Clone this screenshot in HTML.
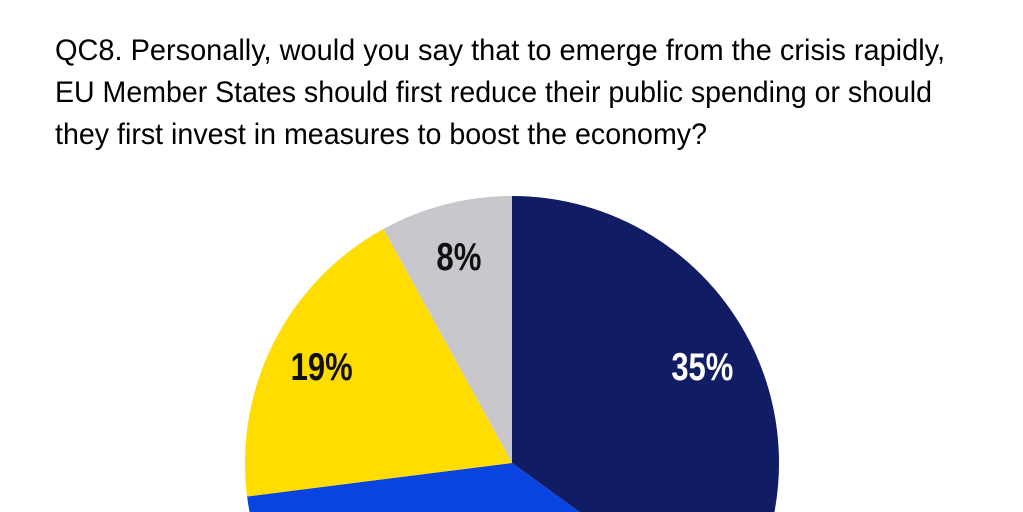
<!DOCTYPE html>
<html><head><meta charset="utf-8"><style>
html,body{margin:0;padding:0;background:#fff;width:1023px;height:512px;overflow:hidden;}
svg{display:block;overflow:hidden;}
text{font-family:"Liberation Sans Narrow","Liberation Sans",sans-serif;}
</style></head><body>
<svg id="chart" width="1023" height="512" viewBox="0 0 1023 512">
<g font-size="30" fill="#000">
<text x="55" y="60" textLength="890" lengthAdjust="spacingAndGlyphs">QC8. Personally, would you say that to emerge from the crisis rapidly,</text>
<text x="55" y="102" textLength="877" lengthAdjust="spacingAndGlyphs">EU Member States should first reduce their public spending or should</text>
<text x="55" y="144" textLength="652" lengthAdjust="spacingAndGlyphs">they first invest in measures to boost the economy?</text>
</g>
<g id="slices"></g>
<g id="labels"></g>
</svg>
<script>
const categories = ["Reduce public spending", "Invest to boost economy", "Other", "Don't know"];
const values = [35, 38, 19, 8];
const labels = ["35%", "", "19%", "8%"];
const colors = ["#101c64", "#0a44e0", "#ffdd00", "#c8c8cc"];
const labelColors = ["#fff", "#fff", "#111", "#111"];
const cx = 512, cy = 463, r = 267;
const NS = "http://www.w3.org/2000/svg";
const total = values.reduce((a,b)=>a+b,0);
function pt(frac, rad){const a = frac*2*Math.PI; return [cx+rad*Math.sin(a), cy-rad*Math.cos(a)];}
let cum = 0;
const sg = document.getElementById('slices'), lg = document.getElementById('labels');
values.forEach((v,i)=>{
  const s = cum/total, e = (cum+v)/total; cum += v;
  const [x1,y1]=pt(s,r), [x2,y2]=pt(e,r);
  const p = document.createElementNS(NS,'path');
  p.setAttribute('d',`M${cx},${cy}L${x1},${y1}A${r},${r} 0 ${e-s>0.5?1:0} 1 ${x2},${y2}Z`);
  p.setAttribute('fill',colors[i]);
  
  
  sg.appendChild(p);
  if(labels[i]){
    const m = (s+e)/2;
    const [lx,ly] = pt(m, r*0.8);
    const t = document.createElementNS(NS,'text');
    t.setAttribute('x',lx); t.setAttribute('y',ly+14);
    t.setAttribute('text-anchor','middle');
    t.setAttribute('font-size','39'); t.setAttribute('font-weight','bold');
    t.setAttribute('textLength', labels[i].length*20 + (labels[i].length>2?2:5));
    t.setAttribute('lengthAdjust','spacingAndGlyphs');
    t.setAttribute('fill',labelColors[i]);
    t.textContent = labels[i];
    
    
    lg.appendChild(t);
  }
});
</script>
</body></html>
